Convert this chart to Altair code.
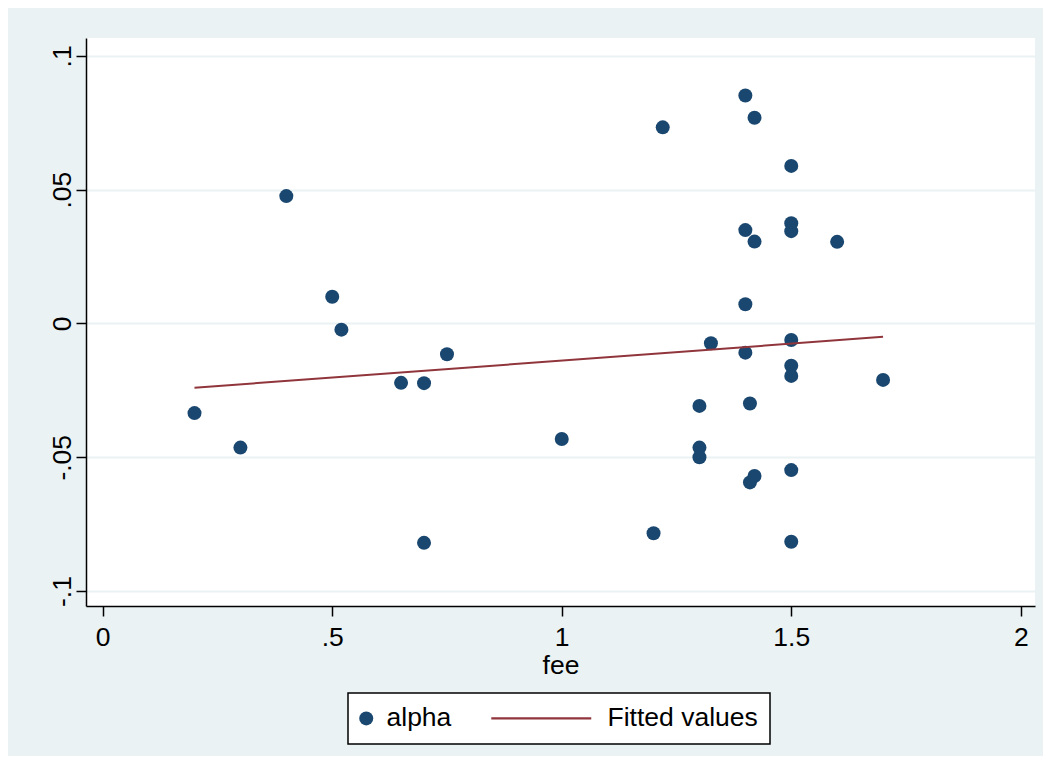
import altair as alt
import pandas as pd

# ---- data ----
fee = [0.20, 0.30, 0.40, 0.50, 0.52, 0.65, 0.70, 0.75, 0.70, 1.00,
       1.20, 1.22, 1.30, 1.30, 1.30, 1.325, 1.40, 1.42, 1.40, 1.42,
       1.40, 1.40, 1.41, 1.42, 1.41, 1.50, 1.50, 1.50, 1.50, 1.50,
       1.50, 1.50, 1.50, 1.60, 1.70]
alpha = [-0.0335, -0.0464, 0.0476, 0.0100, -0.0023, -0.0222, -0.0223, -0.0115, -0.0820, -0.0432,
         -0.0784, 0.0733, -0.0308, -0.0464, -0.0500, -0.0074, 0.0852, 0.0769, 0.0349, 0.0306,
         0.0072, -0.0109, -0.0299, -0.0570, -0.0594, 0.0589, 0.0375, 0.0345, -0.0062, -0.0158,
         -0.0196, -0.0548, -0.0816, 0.0305, -0.0211]
fit_fee = [0.20, 1.70]
fit_alpha = [-0.0240, -0.0050]

series_names = ["alpha", "Fitted values"]
series_colors = ["#1a476f", "#90353b"]
x_ticks = [0, 0.5, 1, 1.5, 2]
y_ticks = [-0.1, -0.05, 0, 0.05, 0.1]

pts = pd.DataFrame({"fee": fee, "alpha": alpha, "series": "alpha"})
fit = pd.DataFrame({"fee": fit_fee, "alpha": fit_alpha, "series": "Fitted values"})

FONT = "Liberation Sans"
FS = 26.5

xscale = alt.Scale(domain=[-0.0364, 2.031], nice=False, zero=False)
yscale = alt.Scale(domain=[-0.1056, 0.1067], nice=False, zero=False)

x_axis = alt.Axis(
    values=x_ticks, title="fee", grid=False,
    labelExpr="datum.value == 0 ? '0' : datum.value == 0.5 ? '.5' : datum.value == 1 ? '1' : datum.value == 1.5 ? '1.5' : '2'",
    labelPadding=8, titlePadding=2,
)
y_axis = alt.Axis(
    values=y_ticks, title=None, grid=True, gridColor="#eaf2f3", gridWidth=2,
    labelAngle=270, labelAlign="center", labelBaseline="alphabetic", labelPadding=6,
    labelExpr="datum.value > 0.09 ? '.1' : datum.value > 0.04 ? '.05' : datum.value > -0.01 ? '0' : datum.value > -0.06 ? '-.05' : '-.1'",
)

legend = alt.Legend(
    title=None, orient="none", legendX=262, legendY=655, direction="horizontal",
    fillColor="white", strokeColor="black", padding=12,
    labelFont=FONT, labelFontSize=FS, labelColor="black",
    labelOffset=7, columnPadding=39, symbolSize=196, symbolStrokeWidth=0,
    symbolOpacity=1, symbolOffset=-7,
)

line_path = "M-13.71,-0.143H0.571V0.143H-13.71Z"

points = alt.Chart(pts).mark_point(filled=True, size=196, opacity=1, strokeWidth=0).encode(
    x=alt.X("fee:Q", scale=xscale, axis=x_axis),
    y=alt.Y("alpha:Q", scale=yscale, axis=y_axis),
    color=alt.Color("series:N", scale=alt.Scale(domain=series_names, range=series_colors), legend=legend),
    shape=alt.Shape("series:N", scale=alt.Scale(domain=series_names, range=["circle", line_path]), legend=legend),
)

fitline = alt.Chart(fit).mark_line(color=series_colors[1], strokeWidth=2).encode(
    x=alt.X("fee:Q", scale=xscale),
    y=alt.Y("alpha:Q", scale=yscale),
)

chart = alt.layer(points, fitline).properties(
    width=949, height=568,
    background="#eaf2f3",
    padding={"left": 78, "top": 30, "right": 8, "bottom": 150},
    autosize=alt.AutoSizeParams(type="none"),
).configure_view(
    fill="white", stroke=None
).configure_axis(
    labelFont=FONT, labelFontSize=FS, labelColor="black",
    titleFont=FONT, titleFontSize=FS, titleFontWeight="normal", titleColor="black",
    domainColor="black", domainWidth=1.5, tickColor="black", tickWidth=1.5, tickSize=10,
    labelFlush=False, labelOverlap=False,
).configure_legend(
    strokeWidth=1.5, cornerRadius=0,
)

chart.save("out.html", embed_options={"renderer": "svg", "actions": False})
